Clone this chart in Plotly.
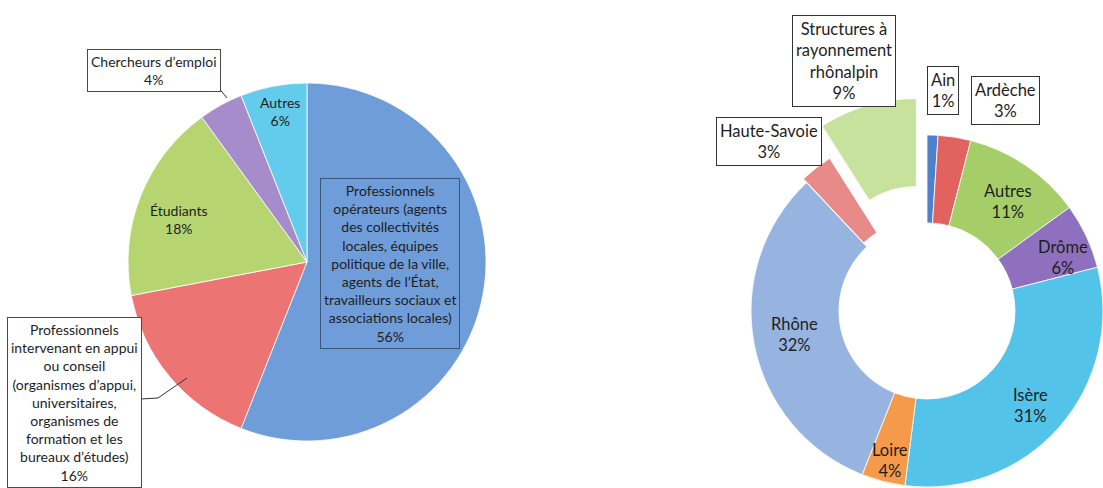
import plotly.graph_objects as go

W, H = 1103, 488

# ---------------- data ----------------
left_labels = [
    "Professionnels opérateurs (agents des collectivités locales, équipes politique de la ville, agents de l’État, travailleurs sociaux et associations locales)",
    "Professionnels intervenant en appui ou conseil (organismes d’appui, universitaires, organismes de formation et les bureaux d’études)",
    "Étudiants",
    "Chercheurs d’emploi",
    "Autres",
]
left_values = [56, 16, 18, 4, 6]
left_colors = ["#6E9DDA", "#EC7573", "#B6D571", "#A78CCB", "#63CCEC"]

right_labels = ["Ain", "Ardèche", "Autres", "Drôme", "Isère", "Loire", "Rhône",
                "Haute-Savoie", "Structures à rayonnement rhônalpin"]
right_values = [1, 3, 11, 6, 31, 4, 32, 3, 9]
right_colors = ["#4F80CC", "#E2625F", "#A6CE68", "#8F70BE", "#54C3EA", "#F59A4B",
                "#97B4E0", "#E78A88", "#C7E29D"]
right_pulled = ["Haute-Savoie", "Structures à rayonnement rhônalpin"]

# label texts with line breaks (display)
left_text = [
    "Professionnels<br>opérateurs (agents<br>des collectivités<br>locales, équipes<br>politique de la ville,<br>agents de l’État,<br>travailleurs sociaux et<br>associations locales)",
    "Professionnels<br>intervenant en appui<br>ou conseil<br>(organismes d’appui,<br>universitaires,<br>organismes de<br>formation et les<br>bureaux d’études)",
    "Étudiants",
    "Chercheurs d’emploi",
    "Autres",
]
right_text = ["Ain", "Ardèche", "Autres", "Drôme", "Isère", "Loire", "Rhône",
              "Haute-Savoie", "Structures à<br>rayonnement<br>rhônalpin"]

FONT = "Lato, Carlito, 'Open Sans', sans-serif"
TXT = "#1e1e1e"


def px_x(x):
    return x / W


def px_y(y):
    return 1 - y / H


def dom(cx, cy, r):
    return dict(x=[max(0, px_x(cx - r)), min(1, px_x(cx + r))],
                y=[max(0, px_y(cy + r)), min(1, px_y(cy - r))])


fig = go.Figure()

# left pie
fig.add_trace(go.Pie(
    labels=left_labels, values=left_values, sort=False, direction="clockwise",
    rotation=0, textinfo="none", hoverinfo="label+percent",
    marker=dict(colors=left_colors, line=dict(color="rgba(255,255,255,0.8)", width=1)),
    domain=dom(307, 262, 179), showlegend=False,
))

# right donut: main ring + two exploded slices drawn as shifted copies
CX, CY, R = 927, 311, 176
HOLE = 0.5


def ring(visible_set, cx, cy):
    cols = [c if (l in visible_set) else "rgba(0,0,0,0)"
            for l, c in zip(right_labels, right_colors)]
    lw = [1 if (l in visible_set) else 0 for l in right_labels]
    return go.Pie(
        labels=right_labels, values=right_values, sort=False, direction="clockwise",
        rotation=0, hole=HOLE, textinfo="none", hoverinfo="label+percent",
        marker=dict(colors=cols, line=dict(color="rgba(255,255,255,0.8)", width=lw)),
        domain=dom(cx, cy, R), showlegend=False,
    )


main_set = [l for l in right_labels if l not in right_pulled]
fig.add_trace(ring(main_set, CX, CY))
fig.add_trace(ring(["Haute-Savoie"], CX - 3, CY - 4))
fig.add_trace(ring(["Structures à rayonnement rhônalpin"], CX - 10.6, CY - 36.5))

ann = []


def add(text, x, y, size, box=False, border="#4a4a4a", bg="white"):
    a = dict(text=text, x=px_x(x), y=px_y(y), xref="paper", yref="paper",
             showarrow=False, xanchor="center", yanchor="middle",
             font=dict(family=FONT, size=size, color=TXT), align="center")
    if box:
        a.update(bordercolor=border, borderwidth=1, borderpad=3, bgcolor=bg)
    ann.append(a)


LS = 14
add(f"{left_text[0]}<br>{left_values[0]}%", 390, 263, LS, box=True, border="#3c5478", bg="rgba(0,0,0,0)")
add(f"{left_text[1]}<br>{left_values[1]}%", 74, 402, LS, box=True)
add(f"{left_text[2]}<br>{left_values[2]}%", 179, 219, LS)
add(f"{left_text[3]}<br>{left_values[3]}%", 154, 71, LS, box=True)
add(f"{left_text[4]}<br>{left_values[4]}%", 280, 111, LS)

RS = 16.5
rpos = {
    "Ain": (943, 90, True),
    "Ardèche": (1005, 101, True),
    "Autres": (1008, 202, False),
    "Drôme": (1063, 257, False),
    "Isère": (1030, 405, False),
    "Loire": (890, 460, False),
    "Rhône": (794, 334, False),
    "Haute-Savoie": (769, 142, True),
    "Structures à rayonnement rhônalpin": (844, 61, True),
}
for l, t, v in zip(right_labels, right_text, right_values):
    x, y, b = rpos[l]
    add(f"{t}<br>{v}%", x, y, RS, box=b, border="#333333")

fig.update_layout(
    width=W, height=H, margin=dict(l=0, r=0, t=0, b=0),
    paper_bgcolor="white", plot_bgcolor="white", annotations=ann,
    shapes=[
        dict(type="line", xref="paper", yref="paper", x0=px_x(218), y0=px_y(87),
             x1=px_x(227), y1=px_y(98), line=dict(color="#333", width=1)),
        dict(type="path", xref="paper", yref="paper",
             path=f"M {px_x(141)},{px_y(399)} L {px_x(158)},{px_y(398)} L {px_x(187)},{px_y(378)}",
             line=dict(color="#333", width=1)),
    ],
)

fig.write_html(
    "out.html",
    config={"displayModeBar": False},
    post_script="document.body.style.margin='0';document.body.style.overflow='hidden';",
)
